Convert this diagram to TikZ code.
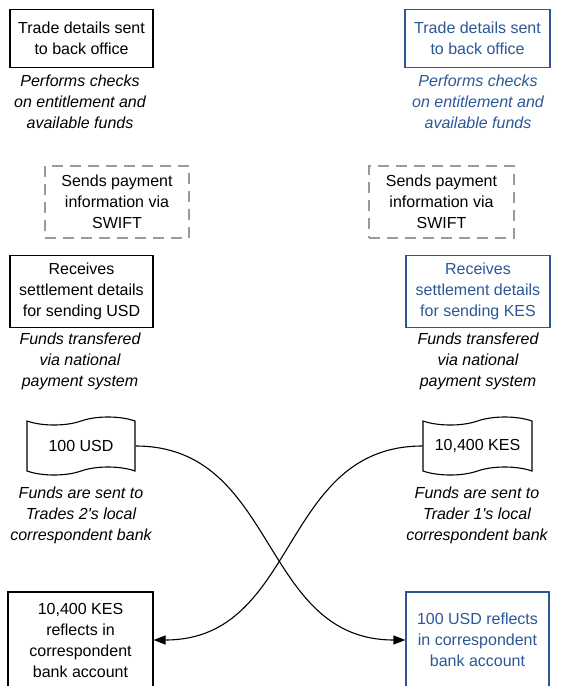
\documentclass[tikz,border=0pt]{standalone}
\usepackage{fontspec}
\setmainfont{Liberation Sans}
\usetikzlibrary{shapes.symbols,arrows.meta}
\definecolor{tblue}{HTML}{2B5797}
\definecolor{dgray}{HTML}{9A9A9A}
\tikzset{
  box/.style={draw, line width=1.1pt, minimum width=#1, inner sep=0pt, align=center, font=\fontsize{16}{21}\selectfont},
  dbox/.style={draw=dgray, line width=1.1pt, dash pattern=on 11pt off 7pt, minimum width=#1, minimum height=72pt, inner sep=0pt, align=center, font=\fontsize{16}{21}\selectfont},
  note/.style={align=center, inner sep=0pt, font=\fontsize{16}{21}\selectfont\itshape},
  wave/.style={tape, draw, line width=1.1pt, minimum width=108pt, minimum height=58pt, tape bend height=8pt, inner sep=0pt, font=\fontsize{16}{21}\selectfont},
  flow/.style={line width=1.1pt, -{Triangle[length=12pt,width=9pt]}},
}
\begin{document}
\begin{tikzpicture}[x=1pt,y=-1pt]
\useasboundingbox (0,0) rectangle (568,686);
\clip (0,0) rectangle (568,686);
% left column
\node[box=143pt, minimum height=58pt] (tl) at (81.5,38.5) {Trade details sent\\to back office};
\node[note] (tln) at (80,102) {Performs checks\\on entitlement and\\available funds};
\node[dbox=144pt] (dl) at (117,202) {Sends payment\\information via\\SWIFT};
\node[box=143pt, minimum height=72pt] (rl) at (81.5,291.5) {Receives\\settlement details\\for sending USD};
\node[note] (rln) at (80,361.5) {Funds transfered\\via national\\payment system};
\node[wave] (wl) at (81,446) {100 USD};
\node[note] (wln) at (81,515.5) {Funds are sent to\\Trades 2\textquotesingle s local\\correspondent bank};
\node[box=145pt, minimum height=96pt] (bl) at (80.5,640) {10,400 KES\\reflects in\\correspondent\\bank account};
% right column
\node[box=145pt, minimum height=58pt, draw=tblue, text=tblue] (tr) at (477.5,38.5) {Trade details sent\\to back office};
\node[note, text=tblue] (trn) at (478,102) {Performs checks\\on entitlement and\\available funds};
\node[dbox=145pt] (dr) at (441.5,202) {Sends payment\\information via\\SWIFT};
\node[box=144pt, minimum height=72pt, draw=tblue, text=tblue] (rr) at (478,291.5) {Receives\\settlement details\\for sending KES};
\node[note] (rrn) at (478,361.5) {Funds transfered\\via national\\payment system};
\node[wave, minimum width=109pt] (wr) at (477.5,446) {10,400 KES};
\node[note] (wrn) at (477,515.5) {Funds are sent to\\Trader 1\textquotesingle s local\\correspondent bank};
\node[box=143pt, minimum height=96pt, draw=tblue, text=tblue] (br) at (477.5,640) {100 USD reflects\\in correspondent\\bank account};
% connectors
\draw[flow] (wl.east) .. controls +(143,0) and +(-146,0) .. (br.west);
\draw[flow] (wr.west) .. controls +(-143,0) and +(146,0) .. (bl.east);
\end{tikzpicture}
\end{document}
